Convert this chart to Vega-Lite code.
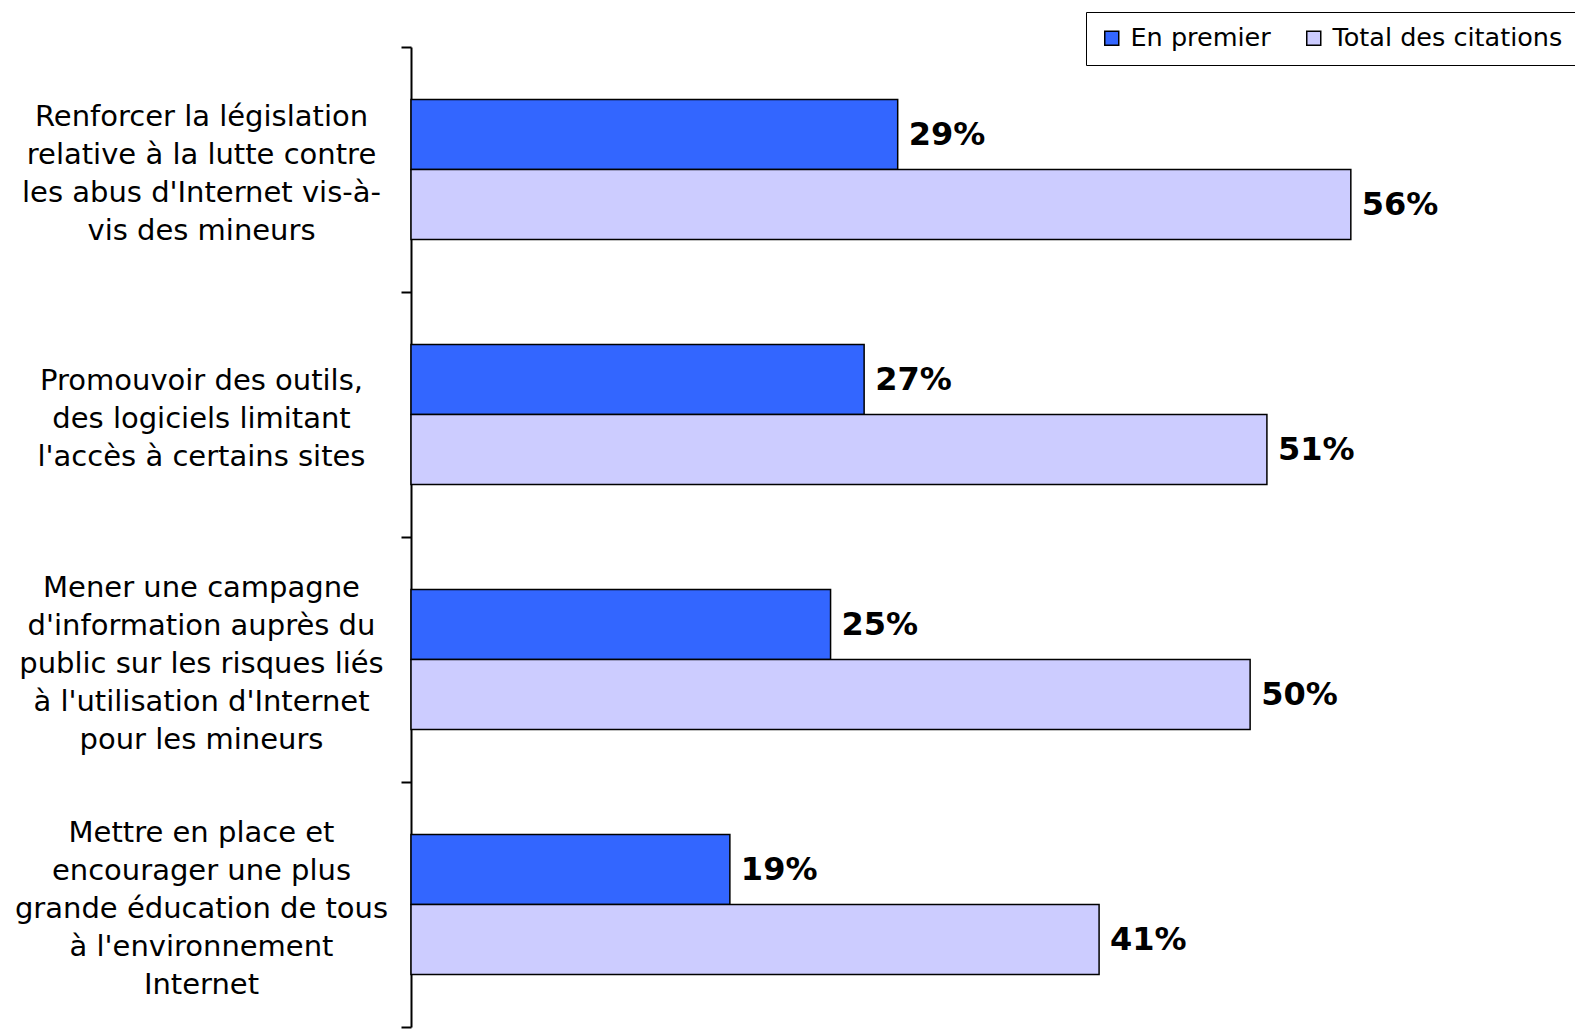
{
  "$schema": "https://vega.github.io/schema/vega-lite/v6.json",
  "autosize": {"type": "none"},
  "padding": {"left": 411, "top": 47, "right": 6, "bottom": 3},
  "width": 1158,
  "height": 980,
  "background": "white",
  "config": {"view": {"stroke": null}, "font": "DejaVu Sans"},
  "data": {
    "values": [
      {"cat": "Renforcer la législation|relative à la lutte contre|les abus d'Internet vis-à-|vis des mineurs", "order": 1, "series": "En premier", "value": 29, "label": "29%"},
      {"cat": "Renforcer la législation|relative à la lutte contre|les abus d'Internet vis-à-|vis des mineurs", "order": 1, "series": "Total des citations", "value": 56, "label": "56%"},
      {"cat": "Promouvoir des outils,|des logiciels limitant|l'accès à certains sites", "order": 2, "series": "En premier", "value": 27, "label": "27%"},
      {"cat": "Promouvoir des outils,|des logiciels limitant|l'accès à certains sites", "order": 2, "series": "Total des citations", "value": 51, "label": "51%"},
      {"cat": "Mener une campagne|d'information auprès du|public sur les risques liés|à l'utilisation d'Internet|pour les mineurs", "order": 3, "series": "En premier", "value": 25, "label": "25%"},
      {"cat": "Mener une campagne|d'information auprès du|public sur les risques liés|à l'utilisation d'Internet|pour les mineurs", "order": 3, "series": "Total des citations", "value": 50, "label": "50%"},
      {"cat": "Mettre en place et|encourager une plus|grande éducation de tous|à l'environnement|Internet", "order": 4, "series": "En premier", "value": 19, "label": "19%"},
      {"cat": "Mettre en place et|encourager une plus|grande éducation de tous|à l'environnement|Internet", "order": 4, "series": "Total des citations", "value": 41, "label": "41%"}
    ]
  },
  "encoding": {
    "y": {
      "field": "cat", "type": "nominal", "sort": {"field": "order", "op": "min"},
      "scale": {"paddingInner": 0, "paddingOuter": 0},
      "axis": {
        "title": null,
        "labelExpr": "split(datum.label, '|')",
        "labelAlign": "center",
        "labelBaseline": "middle",
        "labelPadding": 200,
        "labelFontSize": 29,
        "labelLineHeight": 38,
        "labelOffset": {
          "condition": [
            {"test": "length(split(datum.label, '|')) == 3", "value": -34},
            {"test": "length(split(datum.label, '|')) == 4", "value": -53}
          ],
          "value": -72
        },
        "labelColor": "black",
        "labelLimit": 0,
        "tickBand": "extent",
        "tickSize": 10,
        "tickColor": "black",
        "tickWidth": 2,
        "domainColor": "black",
        "domainWidth": 2
      }
    },
    "yOffset": {"field": "series", "type": "nominal", "sort": ["En premier", "Total des citations"], "scale": {"paddingInner": 0, "paddingOuter": 0.75}},
    "x": {"field": "value", "type": "quantitative", "scale": {"domain": [0, 69]}, "axis": null}
  },
  "layer": [
    {
      "mark": {"type": "bar", "stroke": "black", "strokeWidth": 1.5},
      "encoding": {
        "color": {
          "field": "series", "type": "nominal",
          "scale": {"domain": ["En premier", "Total des citations"], "range": ["#3366FF", "#CCCCFF"]},
          "legend": {
            "title": null,
            "orient": "none",
            "direction": "horizontal",
            "legendX": 675,
            "legendY": -35,
            "strokeColor": "black",
            "padding": 13,
            "symbolType": "square",
            "symbolSize": 196,
            "symbolStrokeColor": "black",
            "symbolStrokeWidth": 1.5,
            "labelFontSize": 25.5,
            "labelColor": "black",
            "labelLimit": 0,
            "labelOffset": 6,
            "columnPadding": 30,
            "symbolOffset": 0
          }
        }
      }
    },
    {
      "mark": {"type": "text", "align": "left", "baseline": "middle", "dx": 11, "fontSize": 32, "fontWeight": "bold", "color": "black"},
      "encoding": {"text": {"field": "label"}}
    }
  ]
}
